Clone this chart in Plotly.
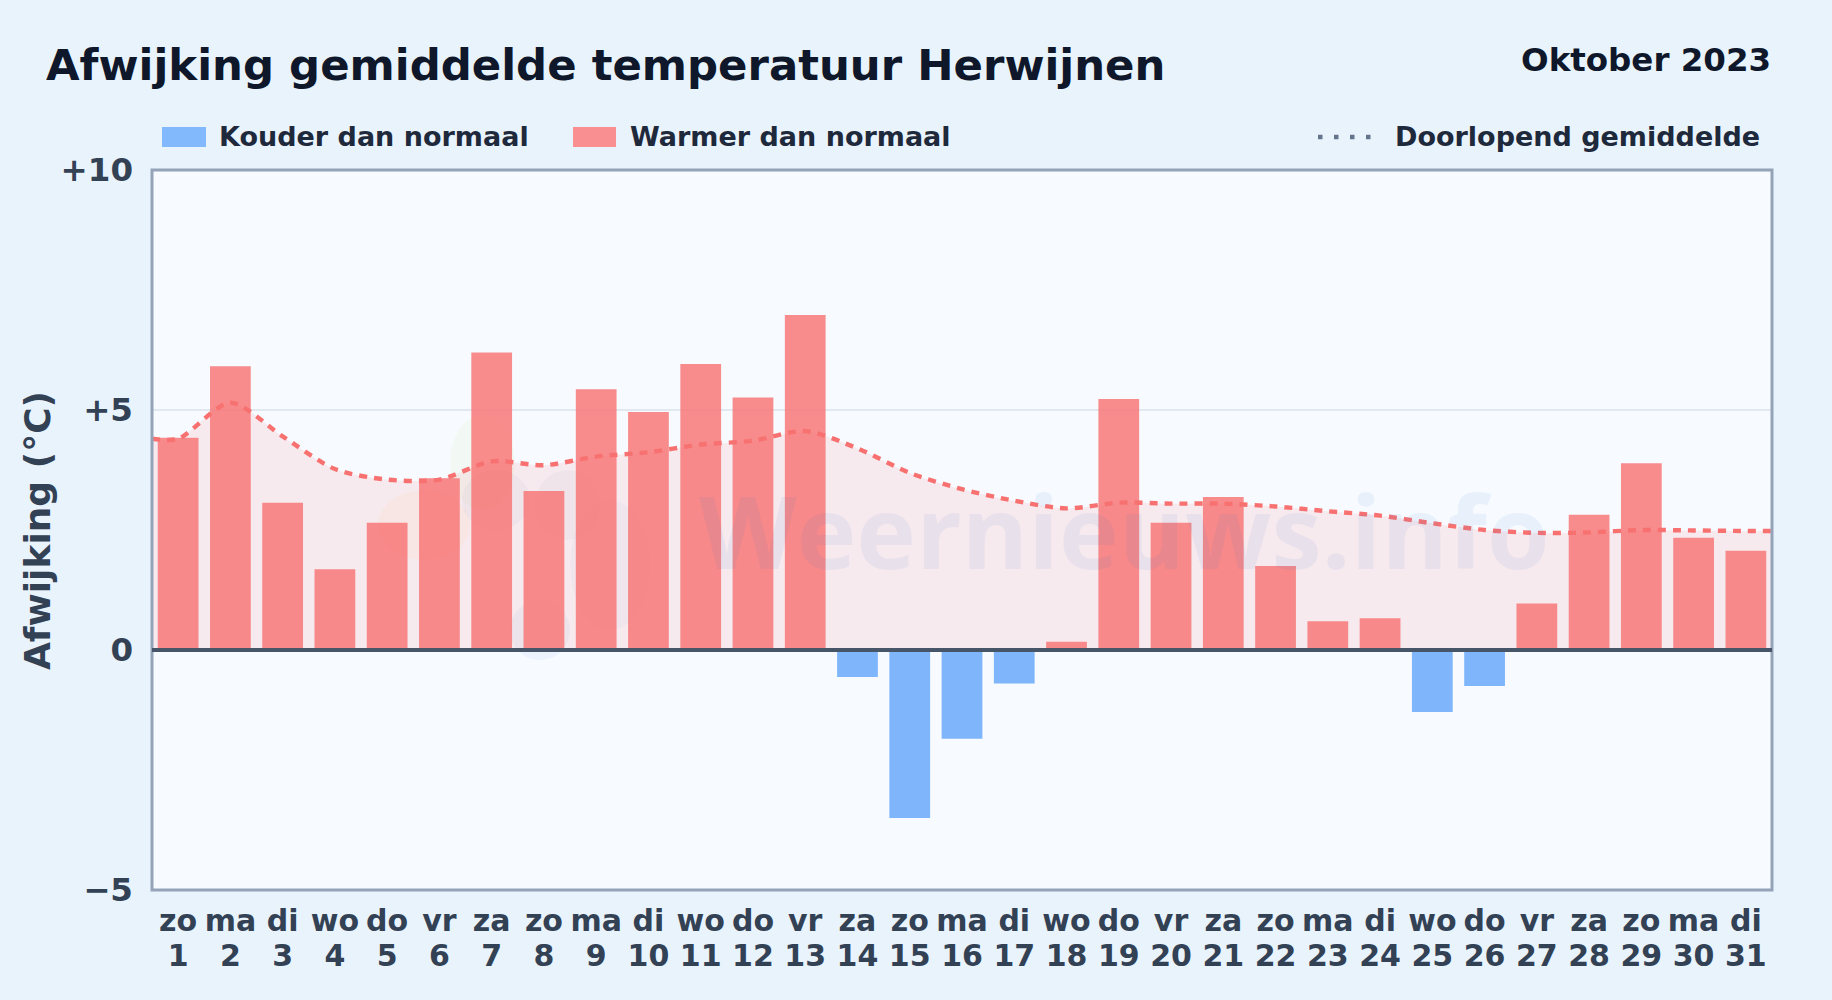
import plotly.graph_objects as go

W, H = 1832, 1000
L, R, T, B = 152, 1772, 170, 890

days = list(range(1, 32))
weekdays = ["zo","ma","di","wo","do","vr","za","zo","ma","di","wo","do","vr","za","zo","ma",
            "di","wo","do","vr","za","zo","ma","di","wo","do","vr","za","zo","ma","di"]
deviation = [4.42,5.91,3.07,1.68,2.65,3.58,6.20,3.31,5.43,4.96,5.96,5.26,6.98,-0.56,-3.50,-1.85,
             -0.70,0.17,5.23,2.65,3.19,1.75,0.60,0.66,-1.29,-0.75,0.97,2.82,3.89,2.34,2.07]
running_mean = [4.40,5.15,4.45,3.77,3.55,3.55,3.93,3.85,4.03,4.12,4.28,4.36,4.56,4.20,3.69,3.35,
                3.11,2.95,3.07,3.05,3.05,2.99,2.89,2.80,2.64,2.50,2.44,2.45,2.50,2.49,2.48]
y_ticks = [-5, 0, 5, 10]
y_labels = ["−5", "0", "+5", "+10"]

FONT = "DejaVu Sans"
RED, BLUE = "#f87171", "#60a5fa"
line_x = [0.5] + days + [31.5]
line_y = [running_mean[0]] + running_mean + [running_mean[-1]]
colors = [RED if v >= 0 else BLUE for v in deviation]

def px(x): return (x - L) / (R - L)
def py(y): return (B - y) / (B - T)

fig = go.Figure()
fig.add_trace(go.Scatter(x=line_x, y=line_y, mode="lines", line=dict(width=0, shape="spline", smoothing=0.8),
                         fill="tozeroy", fillcolor="rgba(248,113,113,0.12)", hoverinfo="skip", showlegend=False))
fig.add_trace(go.Bar(x=days, y=deviation, width=0.78, marker=dict(color=colors, opacity=0.8, line=dict(width=0)),
                     xaxis="x2", yaxis="y2", showlegend=False))
fig.add_trace(go.Scatter(x=line_x, y=line_y, mode="lines", xaxis="x2", yaxis="y2", showlegend=False,
                         line=dict(color=RED, width=4.4, shape="spline", smoothing=0.8, dash="8px,7px")))

shapes = [
    dict(type="rect", xref="paper", yref="paper", x0=0, x1=1, y0=0, y1=1, line=dict(color="#94a3b8", width=3), layer="above"),
    dict(type="line", xref="x2", yref="y2", x0=0.5, x1=31.5, y0=0, y1=0, line=dict(color="#475569", width=4), layer="above"),
    dict(type="rect", xref="paper", yref="paper", x0=px(162), x1=px(206), y0=py(147), y1=py(127), fillcolor="#82b8fc", line_width=0),
    dict(type="rect", xref="paper", yref="paper", x0=px(573), x1=px(616), y0=py(147), y1=py(127), fillcolor="#f98f90", line_width=0),
    dict(type="line", xref="paper", yref="paper", x0=px(1318), x1=px(1377), y0=py(137), y1=py(137),
         line=dict(color="#64748b", width=4.5, dash="4.5px,11.5px")),
]
# faint logo behind the plot contents
for (x0, y0, x1, y1, c) in [(450, 415, 515, 510, "rgba(190,220,120,0.07)"), (378, 490, 470, 560, "rgba(250,190,90,0.07)"),
                            (462, 470, 530, 530, "rgba(120,140,210,0.06)"), (535, 470, 600, 540, "rgba(120,140,210,0.06)"),
                            (510, 600, 570, 660, "rgba(120,150,220,0.08)"), (570, 500, 650, 630, "rgba(120,140,210,0.05)")]:
    shapes.append(dict(type="circle", xref="paper", yref="paper", x0=px(x0), x1=px(x1), y0=py(y0), y1=py(y1),
                       fillcolor=c, line_width=0, layer="below"))

def text(x, y, s, size, color, anchor="left", valign="middle", font=FONT, angle=0, weight="bold"):
    return dict(xref="paper", yref="paper", x=px(x), y=py(y), text=s, showarrow=False, xanchor=anchor, yanchor=valign,
                textangle=angle, font=dict(family=font, size=size, color=color, weight=weight))

annotations = [
    text(43.5, 65, "Afwijking gemiddelde temperatuur Herwijnen", 43.4, "#0f172a"),
    text(1773, 60, "Oktober 2023", 32.5, "#0f172a", anchor="right"),
    text(216.5, 137, "Kouder dan normaal", 27, "#1e293b"),
    text(628, 137, "Warmer dan normaal", 27, "#1e293b"),
    text(1392.5, 137, "Doorlopend gemiddelde", 27, "#1e293b"),
    text(37, 531, "Afwijking (°C)", 36, "#334155", anchor="center", angle=-90),
    text(1124, 530, "Weernieuws.info", 101, "rgba(70,120,210,0.08)", anchor="center", font="Open Sans", weight="bold"),
]

axis_common = dict(range=[0.5, 31.5], showgrid=False, zeroline=False)
x_tick_font = dict(size=30, color="#334155", weight="bold")
fig.update_layout(
    width=W, height=H, autosize=False, bargap=0.22,
    margin=dict(l=L, r=W - R, t=T, b=H - B, pad=0),
    paper_bgcolor="#e8f3fc", plot_bgcolor="#f7fbff",
    font=dict(family=FONT, color="#334155"),
    shapes=shapes, annotations=annotations, showlegend=False,
    xaxis=dict(**axis_common, tickmode="array", tickvals=days, ticktext=weekdays, ticks="",
               tickfont=x_tick_font, tickangle=0, ticklabelstandoff=10, showline=False),
    yaxis=dict(range=[-5, 10], tickmode="array", tickvals=y_ticks, ticktext=y_labels, ticks="",
               tickfont=dict(size=32.5, color="#334155", weight="bold"), ticklabelstandoff=18,
               showgrid=True, gridcolor="#e2e8f0", gridwidth=2, zeroline=False, showline=False),
    xaxis2=dict(**axis_common, overlaying="x", side="bottom", tickmode="array", tickvals=days,
                ticktext=[str(d) for d in days], ticks="", tickfont=x_tick_font, tickangle=0,
                ticklabelstandoff=45, showline=False),
    yaxis2=dict(range=[-5, 10], overlaying="y", visible=False, showgrid=False, zeroline=False),
)

fig.write_html("out.html", config={"displayModeBar": False},
               post_script="document.body.style.margin='0';document.body.style.overflow='hidden';")
